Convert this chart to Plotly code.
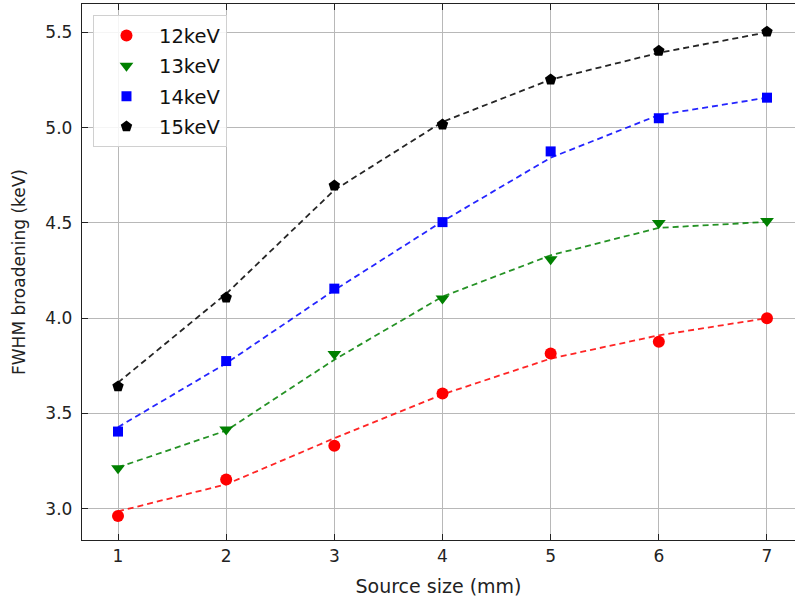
import plotly.graph_objects as go

source_size = [1, 2, 3, 4, 5, 6, 7]
labels = ["12keV", "13keV", "14keV", "15keV"]

# measured points
fwhm_12 = [2.962, 3.153, 3.330, 3.605, 3.815, 3.876, 4.000]
fwhm_13 = [3.212, 3.416, 3.812, 4.103, 4.309, 4.500, 4.510]
fwhm_14 = [3.405, 3.775, 4.155, 4.504, 4.875, 5.049, 5.157]
fwhm_15 = [3.642, 4.108, 4.696, 5.016, 5.252, 5.403, 5.503]

# fitted (dashed) curves evaluated at each source size
fit_12 = [2.986, 3.128, 3.370, 3.600, 3.788, 3.910, 4.000]
fit_13 = [3.217, 3.410, 3.782, 4.113, 4.330, 4.474, 4.505]
fit_14 = [3.428, 3.763, 4.147, 4.508, 4.842, 5.066, 5.157]
fit_15 = [3.662, 4.128, 4.672, 5.030, 5.252, 5.392, 5.500]

y_ticks = [3.0, 3.5, 4.0, 4.5, 5.0, 5.5]

colors = ["red", "green", "blue", "black"]
symbols = ["circle", "triangle-down", "square", "pentagon"]
sizes = [12, 12, 10, 12]
points = [fwhm_12, fwhm_13, fwhm_14, fwhm_15]
fits = [fit_12, fit_13, fit_14, fit_15]

fig = go.Figure()
for lab, col, sym, sz, pts, ft in zip(labels, colors, symbols, sizes, points, fits):
    fig.add_trace(go.Scatter(
        x=source_size, y=ft, mode="lines",
        line=dict(color=col, width=1.8, dash="6px,4px"),
        showlegend=False, hoverinfo="skip", opacity=0.85))
    fig.add_trace(go.Scatter(
        x=source_size, y=pts, mode="markers", name=lab, legendgroup=lab,
        marker=dict(color=col, symbol=sym, size=sz, line=dict(width=0))))

font_family = "DejaVu Sans"
fig.update_layout(
    width=795, height=598,
    margin=dict(l=82, r=0, t=4, b=58),
    paper_bgcolor="white", plot_bgcolor="white",
    font=dict(family=font_family, size=18, color="#222"),
    showlegend=True,
    legend=dict(
        x=0.0154, y=0.979, xanchor="left", yanchor="top",
        bgcolor="rgba(255,255,255,0.85)", bordercolor="#d0d0d0", borderwidth=1,
        font=dict(family=font_family, size=19.5, color="#111"),
        tracegroupgap=2, itemwidth=55,
    ),
    xaxis=dict(
        range=[0.667, 7.259], tickvals=source_size,
        ticktext=[str(v) for v in source_size],
        showgrid=True, gridcolor="#b8b8b8", gridwidth=1.4,
        zeroline=False, showline=True, linecolor="#222", linewidth=1.4,
        mirror="ticks", ticks="inside", ticklen=6, tickcolor="#222",
        tickfont=dict(size=17), automargin=False,
        title=dict(text="Source size (mm)", font=dict(size=19)),
    ),
    yaxis=dict(
        range=[2.836, 5.6485], tickvals=y_ticks,
        ticktext=[f"{v:.1f}" for v in y_ticks],
        showgrid=True, gridcolor="#b8b8b8", gridwidth=1.4,
        zeroline=False, showline=True, linecolor="#222", linewidth=1.4,
        mirror=False, ticks="inside", ticklen=6, tickcolor="#222",
        tickfont=dict(size=17), automargin=False, ticklabelstandoff=5,
        title=dict(text="FWHM broadening (keV)", font=dict(size=17)),
    ),
)

fig.write_html("out.html", config={"displayModeBar": False},
               post_script="document.body.style.margin='0';document.body.style.padding='0';")
